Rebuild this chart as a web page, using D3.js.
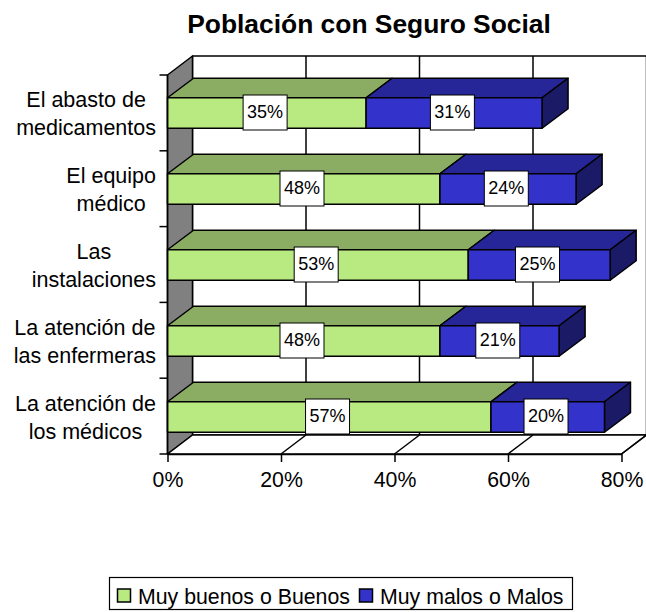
<!DOCTYPE html>
<html><head><meta charset="utf-8">
<script src="https://cdn.jsdelivr.net/npm/d3@7"></script>
<style>html,body{margin:0;padding:0;background:#fff}svg{display:block}text{font-family:"Liberation Sans",Arial,sans-serif;fill:#000}</style>
</head><body><div id="c"></div>
<script>
const categories=[["El abasto de","medicamentos"],["El equipo","médico"],["Las","instalaciones"],["La atención de","las enfermeras"],["La atención de","los médicos"]];
const seriesNames=["Muy buenos o Buenos","Muy malos o Malos"];
const buenos=[35,48,53,48,57];
const malos=[31,24,25,21,20];
const tickValues=[0,20,40,60,80];
const W=646,H=612,dx=25,dy=-19,barDx=26,barDy=-19.5;
const colors=[{front:"#b9ea82",top:"#8bad63",side:"#8bad63"},{front:"#3333cc",top:"#262699",side:"#1a1a66"}];
const svg=d3.select("#c").append("svg").attr("width",W).attr("height",H);
const x=d3.scaleLinear().domain([0,80]).range([167.5,621.5]);
const y=d3.scaleBand().domain(categories.map((d,i)=>i)).range([75,455]).paddingInner(.5987).paddingOuter(.29935);
const ln="#000";
const L=x(0),R=x(80),T=75,B=454;
const poly=(pts,fill,sw=1.5)=>svg.append("polygon").attr("points",pts.map(p=>p.join(",")).join(" ")).attr("fill",fill).attr("stroke",ln).attr("stroke-width",sw).attr("stroke-linejoin","round");
svg.append("text").attr("x",369).attr("y",32.5).attr("text-anchor","middle").attr("font-size",26.4).attr("font-weight","bold").text("Población con Seguro Social");
// walls
poly([[L+dx,T+dy],[W+4,T+dy],[W+4,B+dy],[L+dx,B+dy]],"#fff");
poly([[L,T],[L+dx,T+dy],[L+dx,B+dy],[L,B]],"#808080");
poly([[L,B],[L+dx,B+dy],[R+dx,B+dy],[R,B]],"#fff");
svg.append("g").selectAll("line").data(tickValues.slice(1)).join("line").attr("x1",d=>x(d)+dx).attr("x2",d=>x(d)+dx).attr("y1",T+dy).attr("y2",B+dy).attr("stroke",ln).attr("stroke-width",1.5);
svg.append("g").selectAll("line").data(tickValues.slice(1)).join("line").attr("x1",d=>x(d)).attr("x2",d=>x(d)+dx).attr("y1",B).attr("y2",B+dy).attr("stroke",ln).attr("stroke-width",1.5);
// bars, back to front
categories.forEach((c,i)=>{
  const t=y(i),b=t+y.bandwidth();
  let start=0;
  [buenos[i],malos[i]].forEach((v,s)=>{
    const a=x(start),e=x(start+v),col=colors[s];
    poly([[a,t],[a+barDx,t+barDy],[e+barDx,t+barDy],[e,t]],col.top);
    if(s===1) poly([[e,t],[e+barDx,t+barDy],[e+barDx,b+barDy],[e,b]],col.side);
    poly([[a,t],[e,t],[e,b],[a,b]],col.front);
    start+=v;
  });
});
// axes
const xAxis=svg.append("g").attr("transform",`translate(0,${B})`).call(d3.axisBottom(x).tickValues(tickValues).tickFormat(d=>d+"%").tickSize(8).tickSizeOuter(0));
xAxis.select(".domain").attr("stroke",ln).attr("stroke-width",1.5);
xAxis.selectAll("line").attr("stroke",ln).attr("stroke-width",1.5);
xAxis.selectAll("text").attr("font-size",21.3).attr("y",18).attr("dy","0.71em").style("font-family",'"Liberation Sans",Arial,sans-serif');
const yTicks=d3.range(0,6).map(i=>T+i*(B-T)/5);
svg.append("g").selectAll("line").data(yTicks).join("line").attr("x1",L-8).attr("x2",L).attr("y1",d=>d).attr("y2",d=>d).attr("stroke",ln).attr("stroke-width",1.5);
svg.append("line").attr("x1",L).attr("x2",L).attr("y1",T).attr("y2",B).attr("stroke",ln).attr("stroke-width",1.5);
// category labels
categories.forEach((c,i)=>{
  const g=svg.append("g");
  const cy=y(i)+y.bandwidth()/2;
  const ts=c.map((s,j)=>g.append("text").attr("text-anchor","middle").attr("font-size",21.5).attr("y",cy-6.5+j*28.5).text(s));
  const w=d3.max(ts,t=>t.node().getComputedTextLength());
  ts.forEach(t=>t.attr("x",156-w/2));
});
// value labels
categories.forEach((c,i)=>{
  const cy=y(i)+y.bandwidth()/2-.5;
  [[0,buenos[i]],[buenos[i],malos[i]]].forEach(([s,v])=>{
    const cx=(x(s)+x(s+v))/2-1.7;
    svg.append("rect").attr("x",cx-22).attr("y",cy-17.5).attr("width",44).attr("height",35).attr("fill","#fff").attr("stroke",ln).attr("stroke-width",1);
    svg.append("text").attr("x",cx).attr("y",cy+5.5).attr("text-anchor","middle").attr("font-size",18).text(v+"%");
  });
});
// legend
svg.append("rect").attr("x",109.5).attr("y",577.5).attr("width",463).attr("height",32).attr("fill","#fff").attr("stroke",ln).attr("stroke-width",1.2);
const lx=[117.5,359.5];
seriesNames.forEach((n,i)=>{
  svg.append("rect").attr("x",lx[i]).attr("y",589).attr("width",13).attr("height",13).attr("fill",colors[i].front).attr("stroke",ln).attr("stroke-width",1.5);
  svg.append("text").attr("x",lx[i]+20.5).attr("y",603.5).attr("font-size",21.3).text(n);
});
</script></body></html>
